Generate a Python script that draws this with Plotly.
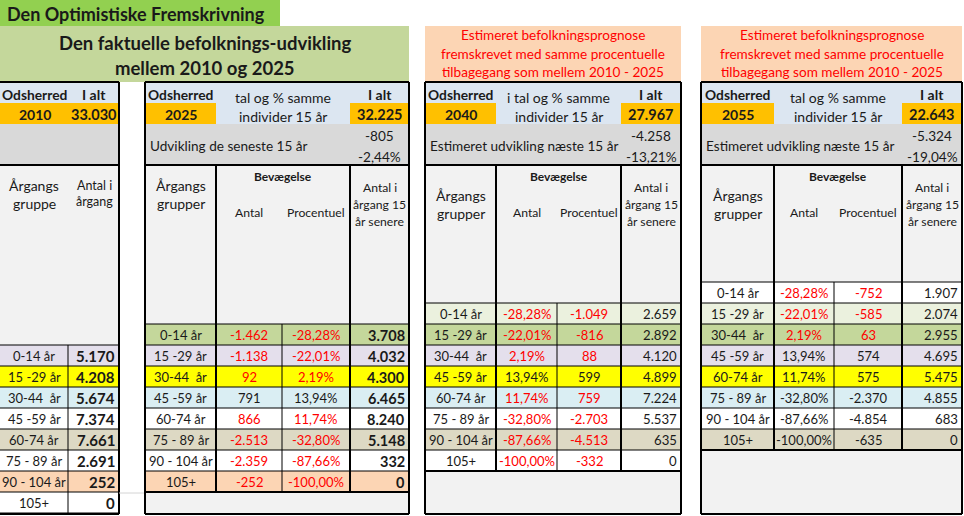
import plotly.graph_objects as go

aargange = ["0-14 år", "15 -29 år", "30-44  år", "45 -59 år", "60-74 år",
            "75 - 89 år", "90 - 104 år", "105+"]

# 2010
antal_2010 = [5170, 4208, 5674, 7374, 7661, 2691, 252, 0]
i_alt_2010 = 33030

# 2025 (faktisk)
bev_antal_2025 = [-1462, -1138, 92, 791, 866, -2513, -2359, -252]
bev_pct_2025 = [-28.28, -22.01, 2.19, 13.94, 11.74, -32.80, -87.66, -100.00]
antal_2025 = [3708, 4032, 4300, 6465, 8240, 5148, 332, 0]
i_alt_2025 = 32225
udv_2025 = -805
udv_pct_2025 = -2.44

# 2040 (prognose)
pct_2040 = [-28.28, -22.01, 2.19, 13.94, 11.74, -32.80, -87.66, -100.00]
bev_antal_2040 = [-1049, -816, 88, 599, 759, -2703, -4513, -332]
antal_2040 = [2659, 2892, 4120, 4899, 7224, 5537, 635, 0]
i_alt_2040 = 27967
udv_2040 = -4258
udv_pct_2040 = -13.21

# 2055 (prognose)
pct_2055 = [-28.28, -22.01, 2.19, 13.94, 11.74, -32.80, -87.66, -100.00]
bev_antal_2055 = [-752, -585, 63, 574, 575, -2370, -4854, -635]
antal_2055 = [1907, 2074, 2955, 4695, 5475, 4855, 683, 0]
i_alt_2055 = 22643
udv_2055 = -5324
udv_pct_2055 = -19.04

# ---- styles ----
FONT = "Lato"
INK = "#1a1a1a"
RED = "#FF0000"
LB = "#DCE6F1"
ORANGE = "#FFC000"
GREY = "#D9D9D9"
LGREY = "#F2F2F2"
# row colour follows the cohort (2055-born ... 105+ in 2010)
cohort_fill = ["#FFFFFF", "#EBF1DE", "#C4D79B", "#E4DFEC", "#FFFF00", "#DAEEF3",
               "#FFFFFF", "#DDD9C4", "#FFFFFF", "#FCD5B4", "#FFFFFF"]
red_2025 = [True, True, True, False, True, True, True, True]
red_2040 = [True, True, True, False, True, True, True, True]
red_2055 = [True, True, True, False, False, False, False, False]

ROW_H = 21
shapes = []
annotations = []


def fmt_tal(v):
    return f"{v:,}".replace(",", ".")


def fmt_pct(v):
    return f"{v:.2f}".replace(".", ",") + "%"


def box(x0, y0, x1, y1, fill):
    shapes.append(dict(type="rect", xref="x", yref="y", x0=x0, y0=y0, x1=x1, y1=y1,
                       fillcolor=fill, line=dict(width=0)))


def line(x0, y0, x1, y1, w=1, color="black"):
    shapes.append(dict(type="line", xref="x", yref="y", x0=x0, y0=y0, x1=x1, y1=y1,
                       line=dict(color=color, width=w)))


def text(x, y, s, size=13, bold=False, color=INK, anchor="center"):
    if bold:
        s = "<b>" + s + "</b>"
    annotations.append(dict(x=x, y=y, xref="x", yref="y", text=s, showarrow=False,
                            xanchor=anchor, yanchor="middle",
                            font=dict(family=FONT, size=size, color=color)))


# ---- titles ----
box(0, 0, 280, 26, "#92D050")
text(5, 14, "Den Optimistiske Fremskrivning", 18, True, anchor="left")
box(0, 26, 409, 82, "#C4D79B")
text(205, 43, "Den faktuelle befolknings-udvikling", 18.5, True)
text(205, 68, "mellem 2010 og 2025", 18.5, True)
for cx, x0, x1 in [(553, 425, 681), (832, 701, 962)]:
    box(x0, 26, x1, 82, "#FCD5B4")
    for k, s in enumerate(["Estimeret befolkningsprognose",
                           "fremskrevet med samme procentuelle",
                           "tilbagegang som mellem 2010 - 2025"]):
        text(cx, 35 + 18.5 * k, s, 13.6, color=RED)

# ---- panel 2010 ----
top1 = 345
box(0, 82, 119, 103, LB)
box(0, 103, 119, 124, ORANGE)
box(0, 124, 119, 165, GREY)
box(0, 165, 119, top1, LGREY)
text(34, 94, "Odsherred", 13.8, True)
text(94, 94, "I alt", 14, True)
text(35, 114, "2010", 14, True)
text(94, 114, fmt_tal(i_alt_2010), 14.5, True)
text(34, 185, "Årgangs", 14)
text(34, 203, "gruppe", 14)
text(94, 185, "Antal i", 12.5)
text(94, 201, "årgang", 12.5)
for i, (lab, v) in enumerate(zip(aargange, antal_2010)):
    y = top1 + ROW_H * i
    box(0, y, 119, y + ROW_H, cohort_fill[i + 3])
    text(34, y + 11, lab, 13)
    text(117, y + 11, fmt_tal(v), 15, True, anchor="right")
for i in range(len(aargange) + 1):
    line(0, top1 + ROW_H * i, 119, top1 + ROW_H * i, 1)
line(68, top1, 68, 514, 1)
line(0, 82, 119, 82, 2)
line(119, 82, 119, 514, 2)
line(0, 165, 119, 165, 2)
line(0, 514, 119, 514, 2)
# faint sheet gridline in the gap
line(119, 493, 145, 493, 1, "#D4D4D4")


# ---- panels 2025 / 2040 / 2055 ----
def panel(p, edges, aar, i_alt, udv, udv_pct, udv_tekst, mid_tekst,
          col2, col3, col4, col4_bold, red, aargang_y):
    x0, xa, xb, xc, x1 = edges
    top = 345 - ROW_H * p
    n = len(aargange)
    bot = top + ROW_H * n
    box(x0, 82, xa, 103, LB)
    box(x0, 103, xa, 124, ORANGE)
    box(xa, 82, xc, 124, LB)
    box(xc, 82, x1, 103, LB)
    box(xc, 103, x1, 124, ORANGE)
    box(x0, 124, x1, 165, GREY)
    box(x0, 165, x1, top, LGREY)
    box(x0, bot, x1, 514, LGREY)

    text((x0 + xa) / 2, 94, "Odsherred", 13.8, True)
    text((x0 + xa) / 2, 114, aar, 14, True)
    text((xa + xc) / 2, 97, mid_tekst, 14)
    text((xa + xc) / 2, 116, "individer 15 år", 14)
    text((xc + x1) / 2, 94, "I alt", 14, True)
    text((xc + x1) / 2, 114, fmt_tal(i_alt), 14.5, True)
    text(x0 + 3, 146, udv_tekst, 13.6, anchor="left")
    text((xc + x1) / 2, 136, fmt_tal(udv), 13.6)
    text((xc + x1) / 2, 157, fmt_pct(udv_pct), 13.6)

    text((x0 + xa) / 2, aargang_y, "Årgangs", 14)
    text((x0 + xa) / 2, aargang_y + 18, "grupper", 14)
    text((xa + xc) / 2, 176, "Bevægelse", 12, True)
    text((xa + xb) / 2, 212, "Antal", 12.2)
    text((xb + xc) / 2, 212, "Procentuel", 12.2)
    for k, s in enumerate(["Antal i", "årgang 15", "år senere"]):
        text((xc + x1) / 2, 187 + 17 * k, s, 12.2)

    vals2, f2 = col2
    vals3, f3 = col3
    for i, lab in enumerate(aargange):
        y = top + ROW_H * i
        box(x0, y, x1, y + ROW_H, cohort_fill[i + 3 - p])
        c = RED if red[i] else INK
        text((x0 + xa) / 2, y + 11, lab, 13)
        text((xa + xb) / 2, y + 11, f2(vals2[i]), 13, color=c)
        text((xb + xc) / 2, y + 11, f3(vals3[i]), 13, color=c)
        text(x1 - 2, y + 11, fmt_tal(col4[i]), 14.5 if col4_bold else 13.2,
             col4_bold, anchor="right")

    for i in range(n + 1):
        line(x0, top + ROW_H * i, x1, top + ROW_H * i, 2 if i == n else 1)
    line(xb, top, xb, bot, 1)
    line(xa, 165, xa, bot, 2)
    line(xc, 165, xc, bot, 2)
    line(x0, 165, x1, 165, 2)
    line(x0, 82, x1, 82, 2)
    line(x0, 514, x1, 514, 2)
    line(x0, 82, x0, 514, 2)
    line(x1, 82, x1, 514, 2)


panel(1, (145, 216, 282, 350, 409), "2025", i_alt_2025, udv_2025, udv_pct_2025,
      "Udvikling de seneste 15 år", "tal og % samme",
      (bev_antal_2025, fmt_tal), (bev_pct_2025, fmt_pct), antal_2025, True,
      red_2025, 185)
panel(2, (425, 496, 557, 621, 681), "2040", i_alt_2040, udv_2040, udv_pct_2040,
      "Estimeret udvikling næste 15 år", "i tal og % samme",
      (pct_2040, fmt_pct), (bev_antal_2040, fmt_tal), antal_2040, False,
      red_2040, 195)
panel(3, (701, 774, 834, 902, 962), "2055", i_alt_2055, udv_2055, udv_pct_2055,
      "Estimeret udvikling næste 15 år", "tal og % samme",
      (pct_2055, fmt_pct), (bev_antal_2055, fmt_tal), antal_2055, False,
      red_2055, 195)

fig = go.Figure()
fig.update_layout(
    width=964, height=516,
    margin=dict(l=0, r=0, t=0, b=0),
    paper_bgcolor="white", plot_bgcolor="white",
    xaxis=dict(range=[0, 964], visible=False, fixedrange=True),
    yaxis=dict(range=[516, 0], visible=False, fixedrange=True),
    shapes=shapes,
    annotations=annotations,
    showlegend=False,
)
# the page body has a default 8px margin; drop it so the sheet sits at 0,0
fig.write_html("out.html", config={"displayModeBar": False},
               post_script="document.body.style.margin='0';")
